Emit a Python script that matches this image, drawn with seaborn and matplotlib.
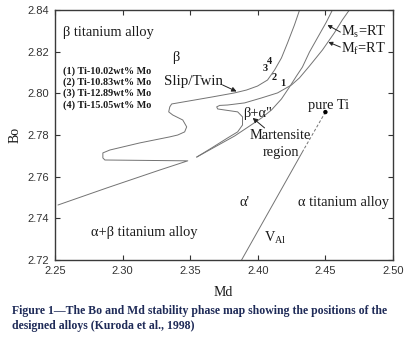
import numpy as np
import matplotlib
matplotlib.use("Agg")
import matplotlib.pyplot as plt
import seaborn as sns

# ---------------- data ----------------
x_ticks = [2.25, 2.30, 2.35, 2.40, 2.45, 2.50]
y_ticks = [2.72, 2.74, 2.76, 2.78, 2.80, 2.82, 2.84]

# beta / (beta+alpha'') boundary with the slip/twin hook and alpha+beta lower line
slip_md = [2.4309, 2.4271, 2.4220, 2.4175, 2.4124, 2.4072, 2.3998, 2.3917, 2.3828,
           2.3666, 2.3533, 2.3363, 2.3349, 2.3341, 2.3371, 2.3445, 2.3474, 2.3459,
           2.3408, 2.3349, 2.3127, 2.2906, 2.2854, 2.2854, 2.2869, 2.3482, 2.3275,
           2.2884, 2.2522]
slip_bo = [2.8400, 2.8328, 2.8242, 2.8170, 2.8112, 2.8064, 2.8035, 2.8016, 2.8002,
           2.7983, 2.7968, 2.7949, 2.7935, 2.7911, 2.7896, 2.7872, 2.7839, 2.7815,
           2.7800, 2.7791, 2.7762, 2.7728, 2.7714, 2.7690, 2.7680, 2.7676, 2.7632,
           2.7546, 2.7464]

# Ms = RT line
ms_md = [2.4552, 2.4507, 2.4441, 2.4382, 2.4330, 2.4286, 2.4234, 2.4175, 2.4101,
         2.4028, 2.3939, 2.3828, 2.3681, 2.3548]
ms_bo = [2.8400, 2.8342, 2.8266, 2.8198, 2.8126, 2.8083, 2.8030, 2.7973, 2.7920,
         2.7882, 2.7843, 2.7795, 2.7742, 2.7694]

# Mf = RT line (with the beta+alpha'' tongue)
mf_md = [2.4677, 2.4625, 2.4566, 2.4478, 2.4382, 2.4308, 2.4249, 2.4146, 2.4028,
         2.3902, 2.3777, 2.3718, 2.3696, 2.3703, 2.3755, 2.3851, 2.3887, 2.3887,
         2.3851, 2.3777, 2.3659, 2.3548]
mf_bo = [2.8400, 2.8352, 2.8290, 2.8208, 2.8131, 2.8074, 2.8040, 2.8002, 2.7978,
         2.7954, 2.7944, 2.7942, 2.7935, 2.7925, 2.7920, 2.7911, 2.7887, 2.7848,
         2.7815, 2.7786, 2.7738, 2.7694]

# V_Al vector from pure Ti
pure_ti_md = [2.4500]
pure_ti_bo = [2.7910]
val_dash_md = [2.4500, 2.4338]
val_dash_bo = [2.7910, 2.7728]
val_solid_md = [2.4338, 2.3880]
val_solid_bo = [2.7728, 2.7200]

alloys = ["(1) Ti-10.02wt% Mo", "(2) Ti-10.83wt% Mo",
          "(3) Ti-12.89wt% Mo", "(4) Ti-15.05wt% Mo"]
alloy_list_bo = [2.8107, 2.8055, 2.8002, 2.7944]
alloy_num = ["4", "3", "2", "1"]
alloy_num_md = [2.4087, 2.4057, 2.4124, 2.4183]
alloy_num_bo = [2.8155, 2.8117, 2.8078, 2.8045]

caption = ["Figure 1\u2014The Bo and Md stability phase map showing the positions of the",
           "designed alloys (Kuroda et al., 1998)"]

# ---------------- style ----------------
sns.set_theme(style="ticks")
plt.rcParams["font.family"] = ["Liberation Serif", "DejaVu Serif"]
plt.rcParams["mathtext.fontset"] = "custom"
plt.rcParams["mathtext.rm"] = "Liberation Serif"

W, H = 412, 346
fig = plt.figure(figsize=(W / 100, H / 100), dpi=100)
fig.patch.set_facecolor("white")
ax = fig.add_axes([55 / W, 1 - 260 / H, 338 / W, 250 / H])
ax.set_facecolor("white")

curve_col = "#737373"
txt_col = "#1a1a1a"
lw = 0.7

for xs, ys in [(slip_md, slip_bo), (ms_md, ms_bo), (mf_md, mf_bo)]:
    sns.lineplot(x=xs, y=ys, sort=False, estimator=None, ax=ax,
                 color=curve_col, linewidth=lw)
sns.lineplot(x=val_dash_md, y=val_dash_bo, sort=False, estimator=None, ax=ax,
             color=curve_col, linewidth=lw, linestyle=(0, (3, 2)))
sns.lineplot(x=val_solid_md, y=val_solid_bo, sort=False, estimator=None, ax=ax,
             color=curve_col, linewidth=lw)
sns.scatterplot(x=pure_ti_md, y=pure_ti_bo, ax=ax, color="black", s=10,
                edgecolor="none", zorder=5)

ax.set_xlim(2.25, 2.50)
ax.set_ylim(2.72, 2.84)
ax.set_xticks(x_ticks)
ax.set_xticklabels([f"{v:.2f}" for v in x_ticks])
ax.set_yticks(y_ticks)
ax.set_yticklabels([f"{v:.2f}" for v in y_ticks])
ax.tick_params(direction="in", length=3.5, width=0.8, top=True, right=True,
               labelsize=8, colors="#333333", pad=4.5)
for lab in ax.get_xticklabels() + ax.get_yticklabels():
    lab.set_fontfamily("Liberation Sans")
for sp in ax.spines.values():
    sp.set_visible(True)
    sp.set_color("#3a3a3a")
    sp.set_linewidth(1.0)

ax.set_xlabel("Md", fontsize=10, color=txt_col)
ax.set_ylabel("Bo", fontsize=10, color=txt_col)
ax.xaxis.set_label_coords(0.497, -0.105)
ax.yaxis.set_label_coords(-0.10, 0.5)

fs = 10.4
ax.text(2.2559, 2.8294, "\u03b2 titanium alloy", fontsize=fs, va="center", ha="left", color=txt_col)
ax.text(2.3393, 2.8174, "\u03b2", fontsize=fs, va="center", ha="center", color=txt_col)
for name, yb in zip(alloys, alloy_list_bo):
    ax.text(2.2559, yb, name, fontsize=7.3, fontweight="bold", va="center", ha="left", color=txt_col)
for n, xm, yb in zip(alloy_num, alloy_num_md, alloy_num_bo):
    ax.text(xm, yb, n, fontsize=7.5, fontweight="bold", va="center", ha="center", color=txt_col)

ax.text(2.3525, 2.8055, "Slip/Twin", fontsize=10.8, va="center", ha="center", color=txt_col)
ax.annotate("", xy=(2.3843, 2.8009), xytext=(2.3740, 2.8040),
            arrowprops=dict(arrowstyle="-|>", color="#222222", lw=0.7, mutation_scale=7,
                            shrinkA=0, shrinkB=0))

ax.text(2.4619, 2.8294, "M$_\\mathregular{s}$=RT", fontsize=fs, va="center", ha="left", color=txt_col)
ax.text(2.4619, 2.8213, "M$_\\mathregular{f}$=RT", fontsize=fs, va="center", ha="left", color=txt_col)
ax.annotate("", xy=(2.4515, 2.8328), xytext=(2.4611, 2.8294),
            arrowprops=dict(arrowstyle="-|>", color="#222222", lw=0.7, mutation_scale=6,
                            shrinkA=0, shrinkB=0))
ax.annotate("", xy=(2.4522, 2.8246), xytext=(2.4611, 2.8222),
            arrowprops=dict(arrowstyle="-|>", color="#222222", lw=0.7, mutation_scale=6,
                            shrinkA=0, shrinkB=0))

ax.text(2.3998, 2.7901, "\u03b2+\u03b1\"", fontsize=fs, va="center", ha="center", color=txt_col)
ax.text(2.4168, 2.7796, "Martensite", fontsize=fs, va="center", ha="center", color=txt_col)
ax.text(2.4168, 2.7714, "region", fontsize=fs, va="center", ha="center", color=txt_col)
ax.annotate("", xy=(2.3962, 2.7882), xytext=(2.4050, 2.7834),
            arrowprops=dict(arrowstyle="-|>", color="#222222", lw=0.7, mutation_scale=7,
                            shrinkA=0, shrinkB=0))

ax.text(2.4522, 2.7944, "pure Ti", fontsize=fs, va="center", ha="center", color=txt_col)
ax.text(2.3902, 2.7474, "\u03b1'", fontsize=fs, va="center", ha="center", color=txt_col)
ax.text(2.4633, 2.7474, "\u03b1 titanium alloy", fontsize=fs, va="center", ha="center", color=txt_col)
ax.text(2.4131, 2.7306, "V$_\\mathregular{Al}$", fontsize=fs, va="center", ha="center", color=txt_col)
ax.text(2.3157, 2.7330, "\u03b1+\u03b2 titanium alloy", fontsize=fs, va="center", ha="center", color=txt_col)

cap_col = "#1f2b58"
fig.text(12 / W, 1 - 311 / H, caption[0], fontsize=8.5, fontweight="bold",
         color=cap_col, va="center", ha="left")
fig.text(12 / W, 1 - 326 / H, caption[1], fontsize=8.5, fontweight="bold",
         color=cap_col, va="center", ha="left")

fig.savefig("out.png", dpi=100, facecolor="white")
